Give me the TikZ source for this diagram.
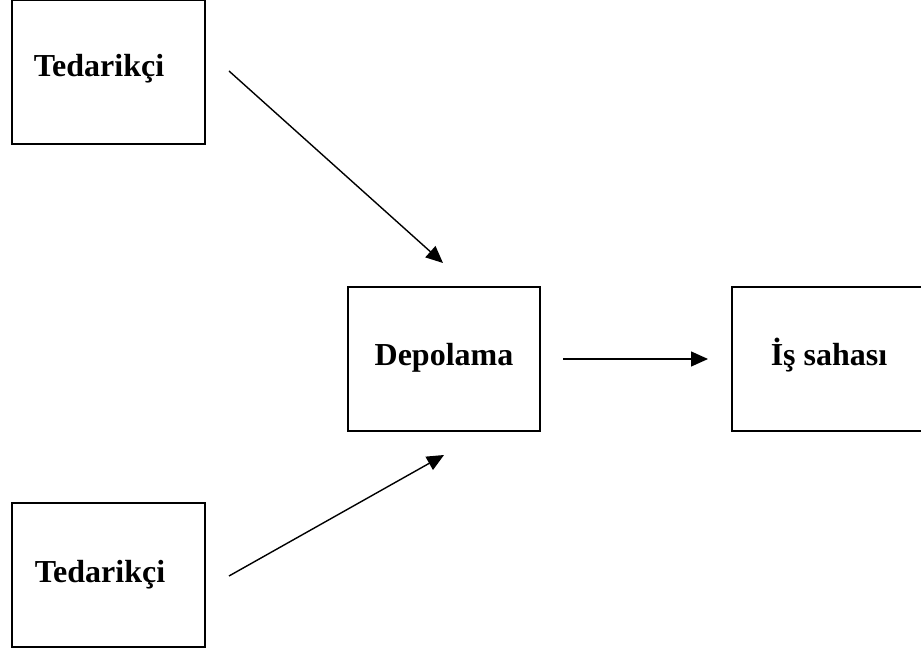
\documentclass[tikz,border=0pt]{standalone}
\usepackage{fontspec}
\setmainfont{Liberation Serif}
\usetikzlibrary{arrows.meta}
\begin{document}
\begin{tikzpicture}[x=1pt,y=-1pt,
  blok/.style={draw,line width=1.4pt},
  etiket/.style={font=\fontsize{32}{36}\selectfont\bfseries,anchor=base,inner sep=0pt},
  ok/.style={line width=1.4pt,-{Triangle[length=17pt,width=15pt]}}]
  \useasboundingbox (0,0) rectangle (921,652);
  % boxes
  \draw[blok] (12,0.7) rectangle (205,144);
  \draw[blok] (12,503) rectangle (205,647);
  \draw[blok] (348,287) rectangle (540,431);
  \draw[blok] (732,287) rectangle (925,431);
  % labels (placed by baseline)
  \node[etiket] (t1) at (99,77) {Tedarikçi};
  \node[etiket] (t2) at (100,582) {Tedarikçi};
  \node[etiket] (dep) at (444,365) {Depolama};
  \node[etiket] (is) at (829,365) {İş sahası};
  % arrow end points
  \coordinate (a1s) at (229,71);
  \coordinate (a1e) at (443,263);
  \coordinate (a2s) at (229,576);
  \coordinate (a2e) at (444,455);
  \coordinate (a3s) at (563,359);
  \coordinate (a3e) at (708,359);
  \draw[ok] (a1s) -- (a1e);
  \draw[ok] (a2s) -- (a2e);
  \draw[ok] (a3s) -- (a3e);
\end{tikzpicture}
\end{document}
